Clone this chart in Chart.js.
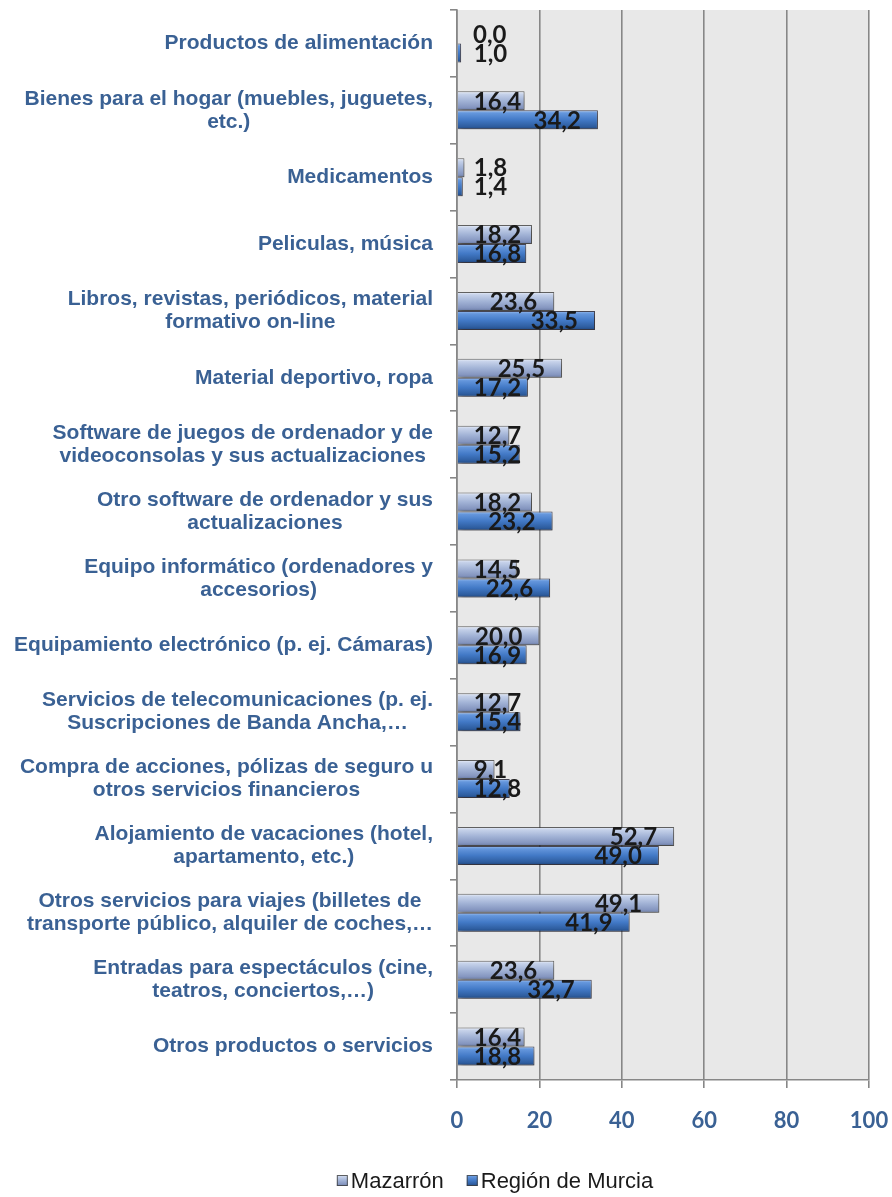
<!DOCTYPE html>
<html><head><meta charset="utf-8">
<script src="https://cdn.jsdelivr.net/npm/chart.js@4"></script>
<style>html,body{margin:0;padding:0;background:#fff;}#wrap{width:892px;height:1197px;}</style>
</head><body><div id="wrap"><canvas id="c" width="892" height="1197"></canvas></div>
<script>
const categories = [
  ["Productos de alimentación"],
  ["Bienes para el hogar (muebles, juguetes,", "etc.)"],
  ["Medicamentos"],
  ["Peliculas, música"],
  ["Libros, revistas, periódicos, material", "formativo on-line"],
  ["Material deportivo, ropa"],
  ["Software de juegos de ordenador y de", "videoconsolas y sus actualizaciones"],
  ["Otro software de ordenador y sus", "actualizaciones"],
  ["Equipo informático (ordenadores y", "accesorios)"],
  ["Equipamiento electrónico (p. ej. Cámaras)"],
  ["Servicios de telecomunicaciones (p. ej.", "Suscripciones de Banda Ancha,…"],
  ["Compra de acciones, pólizas de seguro u", "otros servicios financieros"],
  ["Alojamiento de vacaciones (hotel,", "apartamento, etc.)"],
  ["Otros servicios para viajes (billetes de", "transporte público, alquiler de coches,…"],
  ["Entradas para espectáculos (cine,", "teatros, conciertos,…)"],
  ["Otros productos o servicios"]
];
const mazarron = [0.0, 16.4, 1.8, 18.2, 23.6, 25.5, 12.7, 18.2, 14.5, 20.0, 12.7, 9.1, 52.7, 49.1, 23.6, 16.4];
const murcia   = [1.0, 34.2, 1.4, 16.8, 33.5, 17.2, 15.2, 23.2, 22.6, 16.9, 15.4, 12.8, 49.0, 41.9, 32.7, 18.8];
const seriesNames = ["Mazarrón", "Región de Murcia"];
const xTicks = [0, 20, 40, 60, 80, 100];

const CAT_PCT = 0.57;
const BLUE_TEXT = '#3a6194';
const stopsMaz = [[0,'#eef2fa'],[0.15,'#c6d2ea'],[0.5,'#a2b3d6'],[0.85,'#8495bf'],[1,'#66779f']];
const stopsMur = [[0,'#9cc0f0'],[0.15,'#6496dc'],[0.5,'#4279c6'],[0.85,'#2e5d9f'],[1,'#1f467e']];

function barGradient(ctx, stops, dsIdx) {
  const chart = ctx.chart;
  const ca = chart.chartArea, ys = chart.scales && chart.scales.y;
  if (!ca || !ys || ctx.dataIndex === undefined) return stops[2][1];
  const band = (ca.bottom - ca.top) / categories.length;
  const bh = band * CAT_PCT / 2;
  const c = ys.getPixelForValue(ctx.dataIndex);
  const top = dsIdx === 0 ? c - bh : c;
  const g = chart.ctx.createLinearGradient(0, top, 0, top + bh);
  stops.forEach(s => g.addColorStop(s[0], s[1]));
  return g;
}

const bgPlugin = {
  id: 'plotBg',
  beforeDraw(chart) {
    const {ctx, chartArea: a} = chart;
    ctx.save(); ctx.fillStyle = '#e8e8e8';
    ctx.fillRect(a.left, a.top, a.right - a.left, a.bottom - a.top);
    ctx.restore();
  }
};
const shadowPlugin = {
  id: 'barShadow',
  beforeDatasetsDraw(chart) {
    const c = chart.ctx; c.save();
    c.shadowColor = 'rgba(0,0,0,0.35)'; c.shadowBlur = 5; c.shadowOffsetX = 2; c.shadowOffsetY = 3;
  },
  afterDatasetsDraw(chart) { chart.ctx.restore(); }
};
const labelsPlugin = {
  id: 'textLayer',
  afterDraw(chart) {
    const ctx = chart.ctx, ys = chart.scales.y;
    ctx.save();
    ctx.font = '700 21px "Liberation Sans", Arial, sans-serif';
    ctx.fillStyle = BLUE_TEXT; ctx.textAlign = 'center'; ctx.textBaseline = 'middle';
    const R = 433, LH = 23;
    categories.forEach((lines, i) => {
      const y = ys.getPixelForValue(i);
      const bw = Math.max(...lines.map(l => ctx.measureText(l).width));
      const cx = R - bw / 2;
      lines.forEach((l, k) => ctx.fillText(l, cx, y + (k - (lines.length - 1) / 2) * LH));
    });
    ctx.font = '700 24px Lato, "Open Sans", sans-serif';
    ctx.fillStyle = '#1a1a1a'; ctx.textAlign = 'right'; ctx.textBaseline = 'middle';
    chart.data.datasets.forEach((ds, di) => {
      const meta = chart.getDatasetMeta(di);
      meta.data.forEach((bar, i) => {
        const t = ds.data[i].toFixed(1).replace('.', ',');
        const w = ctx.measureText(t).width;
        const right = Math.max(bar.x - 17, bar.base + 16 + w);
        ctx.fillText(t, right, bar.y + 1);
      });
    });
    ctx.font = '22px "Liberation Sans", Arial, sans-serif';
    ctx.textAlign = 'left'; ctx.textBaseline = 'alphabetic';
    const box = 11, gap = 3, sep = 23, baseY = 1188;
    const widths = seriesNames.map(n => box + gap + ctx.measureText(n).width);
    const total = widths[0] + sep + widths[1];
    let x = 495 - total / 2;
    const legendStops = [stopsMaz, stopsMur];
    seriesNames.forEach((n, i) => {
      const by = baseY - 13;
      const g = ctx.createLinearGradient(0, by, 0, by + box);
      legendStops[i].forEach(s => g.addColorStop(s[0], s[1]));
      ctx.fillStyle = g; ctx.fillRect(x, by, box, box);
      ctx.strokeStyle = 'rgba(60,60,60,0.8)'; ctx.lineWidth = 1; ctx.strokeRect(x + 0.5, by + 0.5, box - 1, box - 1);
      ctx.fillStyle = '#1a1a1a';
      ctx.fillText(n, x + box + gap, baseY);
      x += widths[i] + sep;
    });
    ctx.restore();
  }
};

new Chart(document.getElementById('c'), {
  type: 'bar',
  data: {
    labels: categories,
    datasets: [
      { label: seriesNames[0], data: mazarron, backgroundColor: c => barGradient(c, stopsMaz, 0),
        borderColor: 'rgba(55,55,55,0.75)', borderWidth: 1, categoryPercentage: CAT_PCT, barPercentage: 1 },
      { label: seriesNames[1], data: murcia, backgroundColor: c => barGradient(c, stopsMur, 1),
        borderColor: 'rgba(30,30,50,0.8)', borderWidth: 1, categoryPercentage: CAT_PCT, barPercentage: 1 }
    ]
  },
  options: {
    indexAxis: 'y', responsive: false, animation: false, devicePixelRatio: 1,
    layout: { padding: { top: 10, right: 23, left: 0, bottom: 0 } },
    plugins: { legend: { display: false }, tooltip: { enabled: false } },
    scales: {
      x: {
        min: 0, max: 100,
        afterBuildTicks: s => { s.ticks = xTicks.map(v => ({ value: v })); },
        ticks: { color: BLUE_TEXT, font: { family: 'Lato', weight: '700', size: 22 }, padding: 20 },
        grid: { color: '#878787', lineWidth: 1.6, tickLength: 8 },
        border: { color: '#878787', width: 1.6 },
        afterFit: s => { s.height = 117; s.paddingLeft = 0; s.paddingRight = 0; }
      },
      y: {
        offset: true,
        ticks: { display: false },
        grid: { drawOnChartArea: false, offset: true, tickLength: 7, color: '#878787', lineWidth: 1.6 },
        border: { color: '#878787', width: 1.6 },
        afterFit: s => { s.width = 457; s.paddingTop = 0; s.paddingBottom = 0; }
      }
    }
  },
  plugins: [bgPlugin, shadowPlugin, labelsPlugin]
});
</script></body></html>
